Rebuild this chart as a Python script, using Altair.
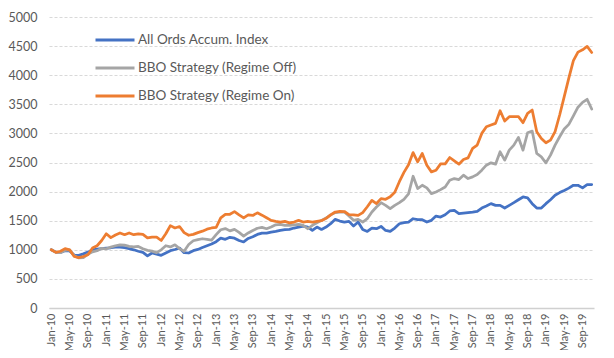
import altair as alt
import pandas as pd

months = [d.strftime("%b-%y") for d in pd.date_range("2010-01-01", periods=119, freq="MS")]
tick_labels = months[::4]
y_ticks = list(range(0, 5001, 500))

series_names = ["All Ords Accum. Index", "BBO Strategy (Regime Off)", "BBO Strategy (Regime On)"]
series_colors = ["#4472C4", "#A5A5A5", "#ED7D31"]

all_ords = [
    1000, 960, 955, 985, 980, 910, 905, 930, 960, 1000,
    1010, 1020, 1030, 1035, 1046, 1046, 1036, 1020, 1000, 975,
    955, 895, 945, 925, 905, 945, 985, 1005, 1030, 950,
    945, 985, 1006, 1040, 1070, 1100, 1140, 1200, 1180, 1215,
    1200, 1160, 1135, 1195, 1225, 1264, 1287, 1287, 1305, 1316,
    1333, 1345, 1350, 1374, 1390, 1408, 1391, 1333, 1391, 1350,
    1391, 1448, 1523, 1494, 1477, 1488, 1408, 1477, 1350, 1316,
    1374, 1362, 1402, 1333, 1316, 1374, 1448, 1466, 1477, 1534,
    1517, 1517, 1477, 1506, 1580, 1563, 1603, 1667, 1678, 1621,
    1632, 1640, 1649, 1661, 1718, 1753, 1793, 1764, 1764, 1718,
    1764, 1810, 1860, 1908, 1891, 1793, 1718, 1718, 1793, 1860,
    1937, 1983, 2020, 2060, 2109, 2109, 2063, 2120, 2120,
]

regime_off = [
    1000, 955, 950, 990, 1000, 900, 860, 865, 925, 965,
    985, 1025, 1017, 1046, 1070, 1086, 1080, 1060, 1050, 1057,
    1017, 990, 977, 950, 1000, 1070, 1050, 1086, 1020, 975,
    1090, 1155, 1175, 1190, 1180, 1165, 1260, 1345, 1365, 1325,
    1350, 1300, 1236, 1290, 1333, 1370, 1385, 1362, 1391, 1430,
    1437, 1420, 1420, 1430, 1437, 1420, 1362, 1420, 1465, 1506,
    1546, 1600, 1640, 1649, 1649, 1580, 1506, 1523, 1477, 1534,
    1649, 1736, 1810, 1764, 1707, 1764, 1810, 1868, 1960, 2264,
    2052, 2109, 2063, 1965, 1994, 2034, 2080, 2195, 2224, 2207,
    2282, 2224, 2253, 2293, 2368, 2454, 2494, 2471, 2684, 2540,
    2712, 2799, 2931, 2712, 3011, 3040, 2655, 2598, 2494, 2626,
    2799, 2943, 3075, 3155, 3300, 3450, 3534, 3586, 3419,
]

regime_on = [
    1000, 955, 975, 1020, 1000, 885, 865, 885, 915, 1030,
    1070, 1160, 1275, 1210, 1255, 1290, 1260, 1290, 1260, 1275,
    1265, 1205, 1218, 1218, 1160, 1275, 1415, 1375, 1400, 1295,
    1250, 1265, 1295, 1320, 1355, 1375, 1385, 1550, 1610, 1610,
    1655, 1600, 1550, 1600, 1590, 1635, 1595, 1550, 1505, 1490,
    1477, 1488, 1462, 1477, 1505, 1477, 1488, 1477, 1488, 1500,
    1540, 1600, 1649, 1661, 1658, 1605, 1600, 1590, 1640, 1740,
    1850, 1795, 1880, 1868, 1910, 1990, 2170, 2330, 2460, 2670,
    2511, 2655, 2454, 2339, 2368, 2477, 2477, 2586, 2529, 2471,
    2552, 2580, 2741, 2799, 3000, 3115, 3144, 3172, 3390, 3213,
    3287, 3287, 3287, 3184, 3345, 3402, 3029, 2914, 2839, 2885,
    3029, 3316, 3632, 3950, 4250, 4396, 4437, 4494, 4390,
]

rows = []
for name, vals in zip(series_names, [all_ords, regime_off, regime_on]):
    for m, v in zip(months, vals):
        rows.append({"month": m, "value": v, "series": name})
df = pd.DataFrame(rows)

FONT = "Lato"
TXT = "#595959"

chart = (
    alt.Chart(df)
    .mark_line(strokeWidth=2.75, strokeJoin="round", strokeCap="round")
    .encode(
        x=alt.X(
            "month:O",
            sort=months,
            scale=alt.Scale(type="point", padding=0.5),
            axis=alt.Axis(
                values=tick_labels,
                labelAngle=270,
                labelFontSize=11,
                labelColor=TXT,
                labelFont=FONT,
                labelPadding=5,
                ticks=False,
                domainColor="#d0d0d0",
                domainWidth=1.5,
                grid=False,
                title=None,
            ),
        ),
        y=alt.Y(
            "value:Q",
            scale=alt.Scale(domain=[0, 5000], nice=False),
            axis=alt.Axis(
                values=y_ticks,
                format="d",
                labelFontSize=12.5,
                labelColor=TXT,
                labelFont=FONT,
                labelPadding=12,
                ticks=False,
                domain=False,
                grid=True,
                gridColor="#d9d9d9",
                gridDash=[3, 2],
                title=None,
            ),
        ),
        color=alt.Color(
            "series:N",
            sort=series_names,
            scale=alt.Scale(domain=series_names, range=series_colors),
            legend=alt.Legend(
                title=None,
                orient="none",
                legendX=45,
                legendY=2,
                symbolType="stroke",
                symbolSize=1521,
                symbolStrokeWidth=3,
                labelFontSize=13.5,
                labelColor=TXT,
                labelFont=FONT,
                labelOffset=2,
                labelLimit=400,
                rowPadding=-14,
                padding=0,
            ),
        ),
    )
    .properties(
        width=545,
        height=291,
        padding={"left": 41, "top": 9, "right": 12, "bottom": 42},
        autosize=alt.AutoSizeParams(type="none"),
        background="white",
    )
    .configure_view(stroke=None)
)

chart.save("out.html", embed_options={"renderer": "svg", "actions": False})
